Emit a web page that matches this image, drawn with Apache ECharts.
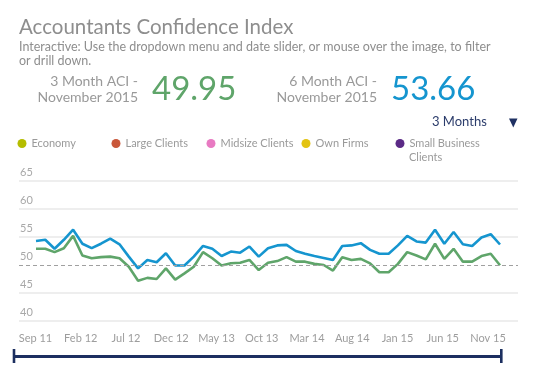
<!DOCTYPE html>
<html>
<head>
<meta charset="utf-8">
<script src="https://cdn.jsdelivr.net/npm/echarts@6/dist/echarts.min.js"></script>
<style>html,body{margin:0;padding:0;background:#fff}#c{width:535px;height:373px}</style>
</head>
<body>
<div id="c"></div>
<script>
const months = ['Sep 11','Oct 11','Nov 11','Dec 11','Jan 12','Feb 12','Mar 12','Apr 12','May 12','Jun 12','Jul 12','Aug 12','Sep 12','Oct 12','Nov 12','Dec 12',
'Jan 13','Feb 13','Mar 13','Apr 13','May 13','Jun 13','Jul 13','Aug 13','Sep 13','Oct 13','Nov 13','Dec 13',
'Jan 14','Feb 14','Mar 14','Apr 14','May 14','Jun 14','Jul 14','Aug 14','Sep 14','Oct 14','Nov 14','Dec 14',
'Jan 15','Feb 15','Mar 15','Apr 15','May 15','Jun 15','Jul 15','Aug 15','Sep 15','Oct 15','Nov 15'];
const tickLabels = ['Sep 11','Feb 12','Jul 12','Dec 12','May 13','Oct 13','Mar 14','Aug 14','Jan 15','Jun 15','Nov 15'];
const aci6Month = [54.3,54.5,52.9,54.5,56.3,53.8,53.0,53.8,54.7,53.7,51.5,49.4,50.9,50.5,52.1,49.9,49.9,51.5,53.4,52.9,51.6,52.4,52.2,53.3,51.5,53.0,
53.5,53.6,52.5,52.0,51.6,51.25,50.9,53.4,53.5,53.9,52.7,52.0,52.0,53.5,55.2,54.2,54.0,56.3,53.8,55.9,53.7,53.4,54.9,55.5,53.66];
const aci3Month = [52.9,52.9,52.3,53.0,55.2,51.7,51.2,51.4,51.5,51.2,49.7,47.2,47.7,47.5,49.4,47.4,48.5,49.7,52.3,51.2,49.9,50.3,50.4,50.9,49.1,50.4,
50.7,51.4,50.6,50.6,50.2,50.0,49.0,51.4,50.9,51.1,50.3,48.7,48.7,50.2,52.3,51.7,51.0,53.8,51.1,52.9,50.6,50.6,51.6,52.0,49.95];
const legendNames = ['Economy','Large Clients','Midsize Clients','Own Firms','Small Business Clients'];
const legendColors = ['#b5bd00','#c9573a','#e87ac2','#e3c312','#5b2a86'];
const referenceValue = 50;
const latest3 = '49.95';
const latest6 = '53.66';

const FF = 'Lato, "Open Sans", sans-serif';
const chart = echarts.init(document.getElementById('c'), null, {renderer:'canvas'});
const legendLefts = [17.5, 111.5, 206.5, 301.5, 395.5];
const legends = legendNames.map((n,i)=>({
  data:[n], left:legendLefts[i], top:138, padding:0, icon:'circle', itemWidth:9, itemHeight:9, itemGap:0,
  selectedMode:false,
  formatter: n==='Small Business Clients' ? 'Small Business' : '{name}',
  textStyle:{color:'#9a9a9a', fontSize:11, fontFamily:FF, padding:[0,0,0,0]}
}));
const splitColors = ['#e8e8e8','#e8e8e8','rgba(0,0,0,0)','#e8e8e8','#e8e8e8','#e8e8e8'];
const option = {
  animation:false,
  backgroundColor:'#fff',
  legend: legends,
  grid:[
    {left:19,right:17,top:181,bottom:52},
    {left:36,right:35,top:181,bottom:52},
    {left:35.5,right:47,top:181,bottom:52}
  ],
  xAxis:[
    {gridIndex:0,type:'value',min:0,max:1,show:false},
    {gridIndex:1,type:'category',data:months,boundaryGap:false,show:false},
    {gridIndex:2,type:'category',data:tickLabels,boundaryGap:false,
     axisLine:{show:false},axisTick:{show:false},splitLine:{show:false},
     axisLabel:{interval:0,color:'#9d9d9d',fontSize:11,margin:12,fontFamily:FF}}
  ],
  yAxis:[
    {gridIndex:0,type:'value',min:40,max:65,interval:5,
     axisLine:{show:false},axisTick:{show:false},
     axisLabel:{inside:true,margin:1,verticalAlign:'bottom',padding:[0,0,3,0],color:'#a8a8a8',fontSize:11,fontFamily:FF},
     splitLine:{lineStyle:{color:splitColors,width:1.5}}},
    {gridIndex:1,type:'value',min:40,max:65,interval:5,show:false,splitLine:{show:false}},
    {gridIndex:2,type:'value',min:40,max:65,interval:5,show:false,splitLine:{show:false}}
  ],
  series:[
    {type:'line',xAxisIndex:0,yAxisIndex:0,data:[],silent:true,
     markLine:{silent:true,symbol:'none',label:{show:false},animation:false,
       lineStyle:{color:'#a0a0a0',type:[4,3],width:1},data:[{yAxis:referenceValue}]}},
    ...legendNames.map((n,i)=>({name:n,type:'line',xAxisIndex:1,yAxisIndex:1,data:[],itemStyle:{color:legendColors[i]},lineStyle:{color:legendColors[i]}})),
    {name:'3 Month ACI',type:'line',xAxisIndex:1,yAxisIndex:1,data:aci3Month,symbol:'none',
     lineStyle:{color:'#5fa56a',width:2.6},itemStyle:{color:'#5fa56a'}},
    {name:'6 Month ACI',type:'line',xAxisIndex:1,yAxisIndex:1,data:aci6Month,symbol:'none',
     lineStyle:{color:'#1595cf',width:2.6},itemStyle:{color:'#1595cf'}}
  ],
  graphic:[
    {type:'text',x:19,y:27,style:{text:'Accountants Confidence Index',fill:'#8e8e8e',font:'20.5px '+FF,verticalAlign:'middle'}},
    {type:'text',x:19,y:47,style:{text:'Interactive: Use the dropdown menu and date slider, or mouse over the image, to filter',fill:'#8e8e8e',font:'12.5px '+FF,verticalAlign:'middle'}},
    {type:'text',x:19,y:61,style:{text:'or drill down.',fill:'#8e8e8e',font:'12.5px '+FF,verticalAlign:'middle'}},
    {type:'text',x:138,y:81,style:{text:'3 Month ACI -',fill:'#999',font:'14px '+FF,align:'right',verticalAlign:'middle'}},
    {type:'text',x:138,y:97,style:{text:'November 2015',fill:'#999',font:'14px '+FF,align:'right',verticalAlign:'middle'}},
    {type:'text',x:152,y:89,style:{text:latest3,fill:'#5fa56a',font:'33px '+FF,verticalAlign:'middle'}},
    {type:'text',x:377,y:81,style:{text:'6 Month ACI -',fill:'#999',font:'14px '+FF,align:'right',verticalAlign:'middle'}},
    {type:'text',x:377,y:97,style:{text:'November 2015',fill:'#999',font:'14px '+FF,align:'right',verticalAlign:'middle'}},
    {type:'text',x:391,y:89,style:{text:latest6,fill:'#1595cf',font:'33px '+FF,verticalAlign:'middle'}},
    {type:'text',x:432,y:122,style:{text:'3 Months',fill:'#2b3c6b',font:'13px '+FF,verticalAlign:'middle'}},
    {type:'polygon',shape:{points:[[509,118.5],[517.5,118.5],[513.3,127.5]]},style:{fill:'#1f3163'}},
    {type:'text',x:409,y:157,style:{text:'Clients',fill:'#9a9a9a',font:'11px '+FF,verticalAlign:'middle'}},
    {type:'rect',shape:{x:14,y:355,width:488,height:3},style:{fill:'#1c2f60'}},
    {type:'rect',shape:{x:12.7,y:349,width:2.6,height:14},style:{fill:'#1c2f60'}},
    {type:'rect',shape:{x:500,y:349,width:2.6,height:14},style:{fill:'#1c2f60'}}
  ]
};
chart.setOption(option);
</script>
</body>
</html>
